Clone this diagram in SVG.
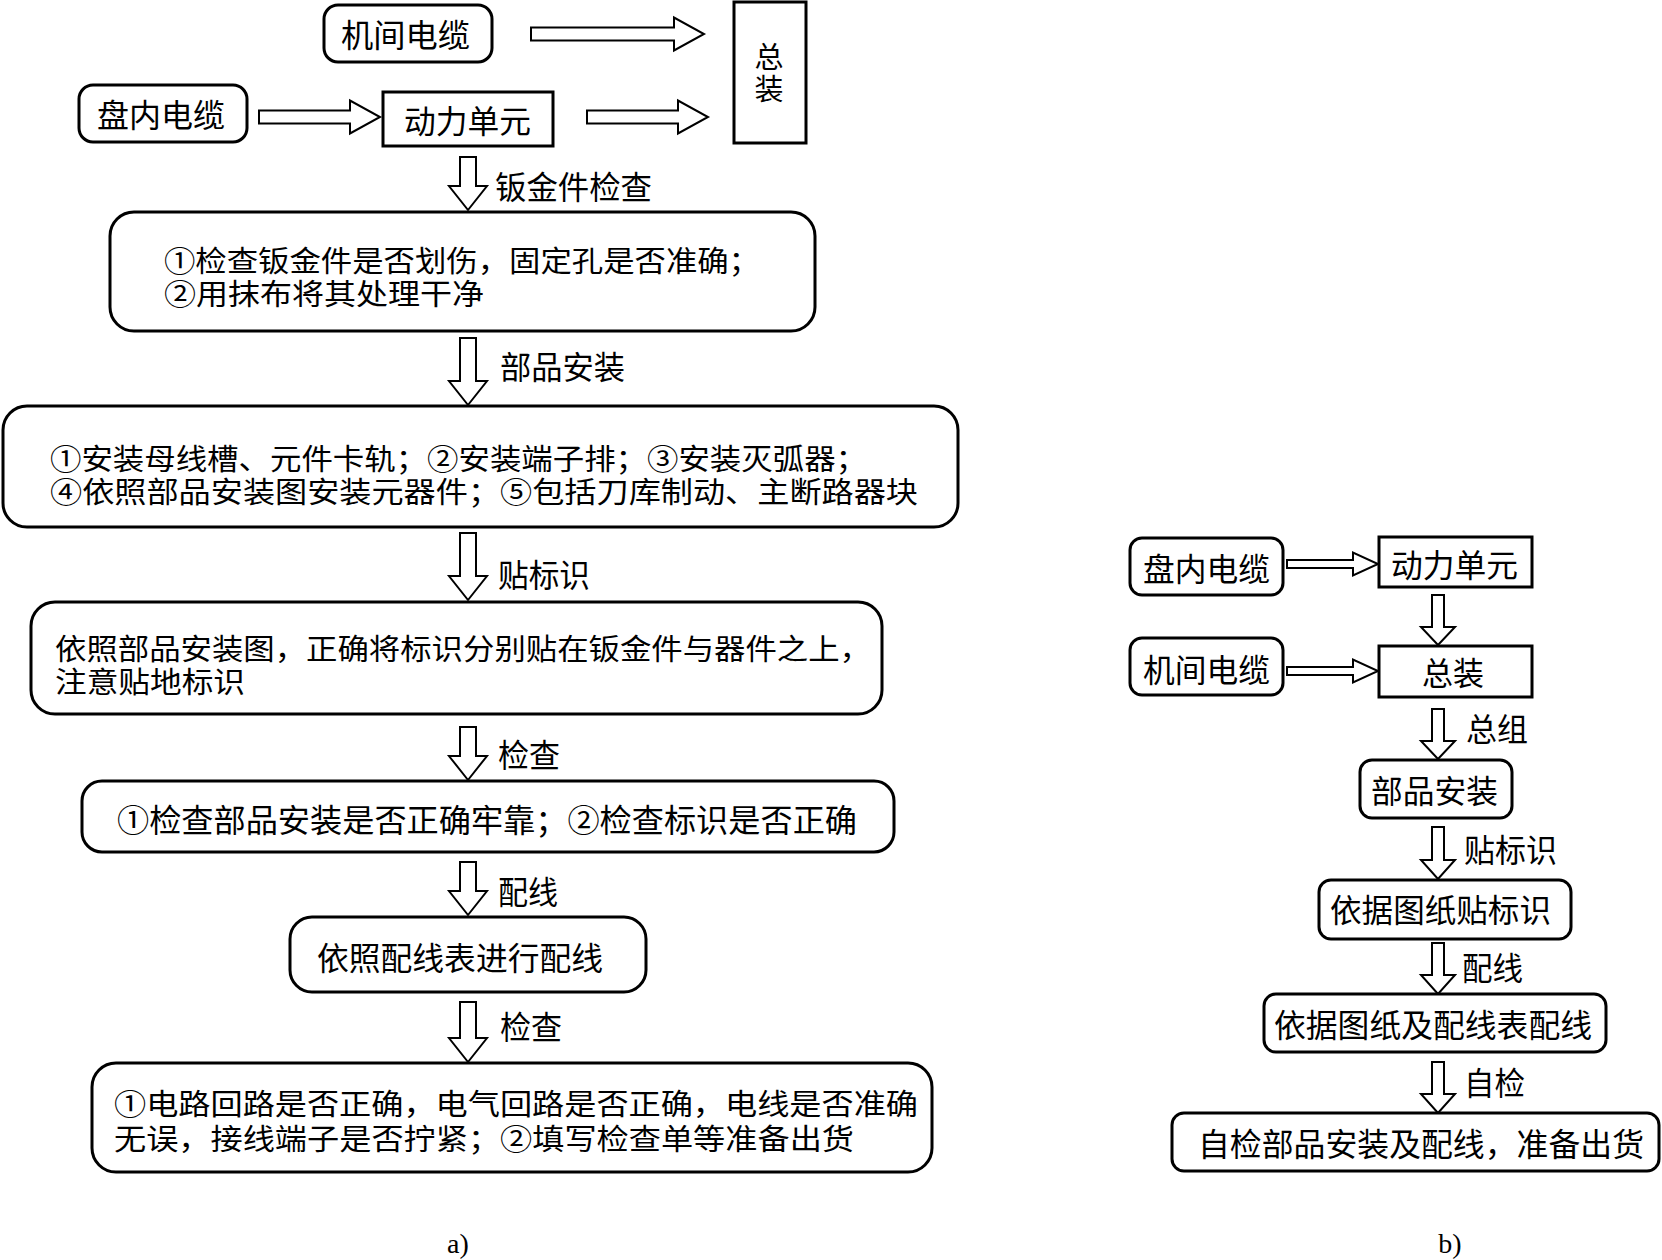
<svg xmlns="http://www.w3.org/2000/svg" width="1662" height="1260" viewBox="0 0 1662 1260">
<style>
.box{fill:#fff;stroke:#000;stroke-width:3}
.arr{fill:#fff;stroke:#000;stroke-width:2;stroke-linejoin:miter}
text{font-family:"Noto Sans CJK SC","Noto Sans",sans-serif;font-size:32px;fill:#000;dominant-baseline:central}
.t2{font-size:29px}
.m{text-anchor:middle}
.cap{font-family:"Liberation Serif",serif;font-size:28px}
</style>
<rect width="1662" height="1260" fill="#fff"/>
<g id="connectors">
<polygon class="arr" points="531,27.5 674,27.5 674,17.5 704,34 674,50.5 674,40.5 531,40.5"/>
<polygon class="arr" points="259,110.5 350,110.5 350,100.5 380,117 350,133.5 350,123.5 259,123.5"/>
<polygon class="arr" points="587,110.5 678,110.5 678,100.5 708,117 678,133.5 678,123.5 587,123.5"/>
<polygon class="arr" points="460,157 476,157 476,186 487,186 468,210 449,186 460,186"/>
<polygon class="arr" points="460,338 476,338 476,381 487,381 468,405 449,381 460,381"/>
<polygon class="arr" points="460,533 476,533 476,576 487,576 468,600 449,576 460,576"/>
<polygon class="arr" points="460,727 476,727 476,756 487,756 468,780 449,756 460,756"/>
<polygon class="arr" points="460,862 476,862 476,891 487,891 468,915 449,891 460,891"/>
<polygon class="arr" points="460,1002 476,1002 476,1038 487,1038 468,1062 449,1038 460,1038"/>
<polygon class="arr" points="1287,560 1353,560 1353,552.5 1378,564 1353,575.5 1353,568 1287,568"/>
<polygon class="arr" points="1287,667 1353,667 1353,659.5 1378,671 1353,682.5 1353,675 1287,675"/>
<polygon class="arr" points="1432,595 1444,595 1444,627 1455,627 1438,645 1421,627 1432,627"/>
<polygon class="arr" points="1432,709 1444,709 1444,741 1455,741 1438,759 1421,741 1432,741"/>
<polygon class="arr" points="1432,827 1444,827 1444,860 1455,860 1438,879 1421,860 1432,860"/>
<polygon class="arr" points="1432,943 1444,943 1444,975 1455,975 1438,994 1421,975 1432,975"/>
<polygon class="arr" points="1432,1062 1444,1062 1444,1094 1455,1094 1438,1113 1421,1094 1432,1094"/>
<text x="495" y="185" textLength="157" lengthAdjust="spacingAndGlyphs">钣金件检查</text>
<text x="500" y="365" textLength="125" lengthAdjust="spacingAndGlyphs">部品安装</text>
<text x="498" y="573" textLength="92" lengthAdjust="spacingAndGlyphs">贴标识</text>
<text x="498" y="753" textLength="62" lengthAdjust="spacingAndGlyphs">检查</text>
<text x="498" y="890" textLength="60" lengthAdjust="spacingAndGlyphs">配线</text>
<text x="500" y="1025" textLength="62" lengthAdjust="spacingAndGlyphs">检查</text>
<text x="1466" y="727" textLength="62" lengthAdjust="spacingAndGlyphs">总组</text>
<text x="1464" y="848" textLength="93" lengthAdjust="spacingAndGlyphs">贴标识</text>
<text x="1462" y="966" textLength="61" lengthAdjust="spacingAndGlyphs">配线</text>
<text x="1464" y="1081" textLength="61" lengthAdjust="spacingAndGlyphs">自检</text>
</g>
<g id="a-jijian">
<rect class="box" x="324" y="5" width="168" height="57" rx="14"/>
<text x="341" y="33" textLength="129" lengthAdjust="spacingAndGlyphs">机间电缆</text>
</g>
<g id="a-pannei">
<rect class="box" x="79" y="85" width="168" height="57" rx="14"/>
<text x="97" y="113" textLength="128" lengthAdjust="spacingAndGlyphs">盘内电缆</text>
</g>
<g id="a-dongli">
<rect class="box" x="383" y="92" width="170" height="54"/>
<text x="404" y="119" textLength="127" lengthAdjust="spacingAndGlyphs">动力单元</text>
</g>
<g id="a-zongzhuang">
<rect class="box" x="734" y="2" width="72" height="141"/>
<text class="m t2"><tspan x="769" y="55">总</tspan><tspan x="769" y="87">装</tspan></text>
</g>
<g id="a-step1">
<rect class="box" x="110" y="212" width="705" height="119" rx="24"/>
<text class="t2"><tspan x="164" y="259" textLength="596" lengthAdjust="spacingAndGlyphs">①检查钣金件是否划伤，固定孔是否准确；</tspan><tspan x="164" y="292" textLength="320" lengthAdjust="spacingAndGlyphs">②用抹布将其处理干净</tspan></text>
</g>
<g id="a-step2">
<rect class="box" x="3" y="406" width="955" height="121" rx="24"/>
<text class="t2"><tspan x="50" y="457" textLength="817" lengthAdjust="spacingAndGlyphs">①安装母线槽、元件卡轨；②安装端子排；③安装灭弧器；</tspan><tspan x="50" y="490" textLength="868" lengthAdjust="spacingAndGlyphs">④依照部品安装图安装元器件；⑤包括刀库制动、主断路器块</tspan></text>
</g>
<g id="a-step3">
<rect class="box" x="31" y="602" width="851" height="112" rx="24"/>
<text class="t2"><tspan x="55" y="647" textLength="816" lengthAdjust="spacingAndGlyphs">依照部品安装图，正确将标识分别贴在钣金件与器件之上，</tspan><tspan x="55" y="680" textLength="190" lengthAdjust="spacingAndGlyphs">注意贴地标识</tspan></text>
</g>
<g id="a-step4">
<rect class="box" x="82" y="781" width="812" height="71" rx="20"/>
<text x="117" y="818" textLength="740" lengthAdjust="spacingAndGlyphs">①检查部品安装是否正确牢靠；②检查标识是否正确</text>
</g>
<g id="a-step5">
<rect class="box" x="290" y="917" width="356" height="75" rx="22"/>
<text x="317" y="956" textLength="286" lengthAdjust="spacingAndGlyphs">依照配线表进行配线</text>
</g>
<g id="a-step6">
<rect class="box" x="92" y="1063" width="840" height="109" rx="24"/>
<text class="t2"><tspan x="114" y="1102" textLength="804" lengthAdjust="spacingAndGlyphs">①电路回路是否正确，电气回路是否正确，电线是否准确</tspan><tspan x="114" y="1137" textLength="740" lengthAdjust="spacingAndGlyphs">无误，接线端子是否拧紧；②填写检查单等准备出货</tspan></text>
</g>
<text class="cap m" x="458" y="1243">a)</text>
<g id="b-pannei">
<rect class="box" x="1130" y="538" width="153" height="57" rx="12"/>
<text x="1143" y="567" textLength="127" lengthAdjust="spacingAndGlyphs">盘内电缆</text>
</g>
<g id="b-dongli">
<rect class="box" x="1379" y="537" width="153" height="50"/>
<text x="1391" y="563" textLength="127" lengthAdjust="spacingAndGlyphs">动力单元</text>
</g>
<g id="b-jijian">
<rect class="box" x="1130" y="638" width="153" height="57" rx="12"/>
<text x="1143" y="668" textLength="127" lengthAdjust="spacingAndGlyphs">机间电缆</text>
</g>
<g id="b-zongzhuang">
<rect class="box" x="1379" y="646" width="153" height="51"/>
<text x="1422" y="671" textLength="62" lengthAdjust="spacingAndGlyphs">总装</text>
</g>
<g id="b-bupin">
<rect class="box" x="1360" y="760" width="152" height="58" rx="12"/>
<text x="1371" y="789" textLength="127" lengthAdjust="spacingAndGlyphs">部品安装</text>
</g>
<g id="b-biaoshi">
<rect class="box" x="1319" y="880" width="252" height="59" rx="12"/>
<text x="1330" y="908" textLength="221" lengthAdjust="spacingAndGlyphs">依据图纸贴标识</text>
</g>
<g id="b-peixian">
<rect class="box" x="1264" y="994" width="342" height="58" rx="12"/>
<text x="1274" y="1023" textLength="318" lengthAdjust="spacingAndGlyphs">依据图纸及配线表配线</text>
</g>
<g id="b-zijian">
<rect class="box" x="1172" y="1113" width="487" height="58" rx="12"/>
<text x="1198" y="1142" textLength="446" lengthAdjust="spacingAndGlyphs">自检部品安装及配线，准备出货</text>
</g>
<text class="cap m" x="1450" y="1243">b)</text>
</svg>
